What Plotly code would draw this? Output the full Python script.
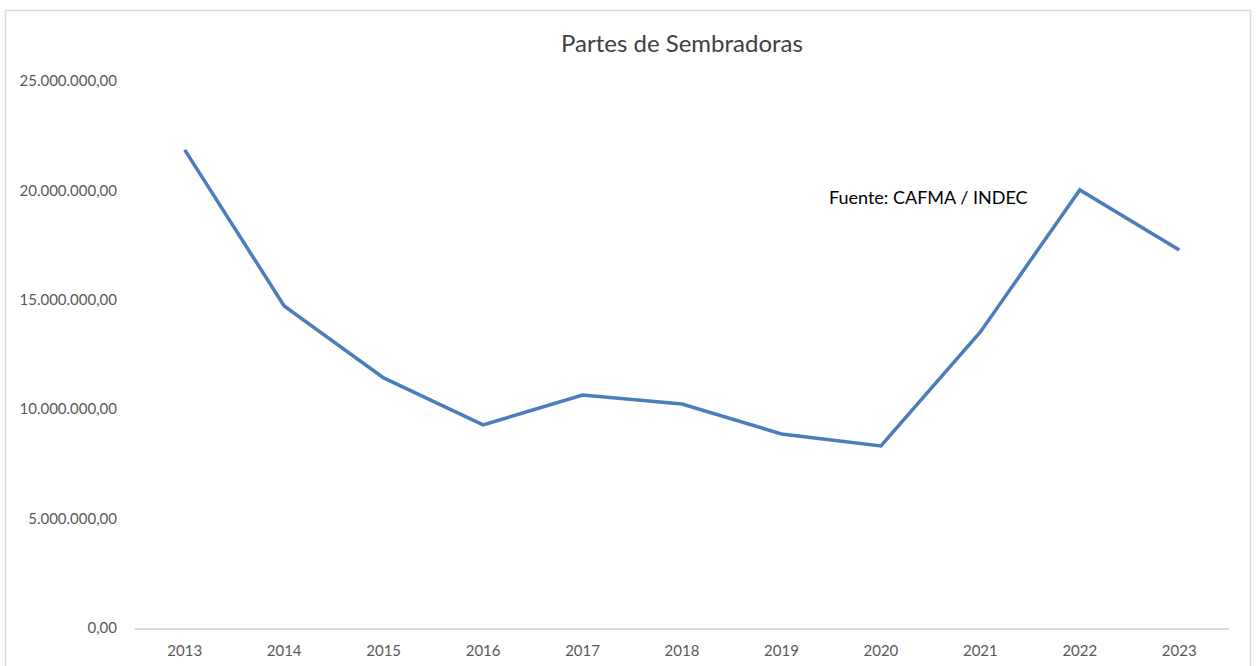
import plotly.graph_objects as go

years = ["2013", "2014", "2015", "2016", "2017", "2018", "2019", "2020", "2021", "2022", "2023"]
values = [21850000, 14720000, 11430000, 9280000, 10650000, 10240000, 8870000, 8320000, 13530000, 20020000, 17280000]
y_ticks = [0, 5000000, 10000000, 15000000, 20000000, 25000000]

W, H = 1256, 666
# plot area in window pixels: x 135..1229, y 81..628
L = 135
T = 81
R = W - 1229
B = H - 628
pw, ph = W - L - R, H - T - B

def px_x(p):
    return (p - L) / pw

def px_y(p):
    return (H - B - p) / ph

fig = go.Figure()
fig.add_trace(go.Scatter(x=years, y=values, mode="lines",
                         line=dict(color="#4A7EBB", width=3.5), hoverinfo="skip"))

fig.update_layout(
    width=W, height=H,
    margin=dict(l=L, r=R, t=T, b=B, autoexpand=False),
    paper_bgcolor="white", plot_bgcolor="white",
    separators=",.",
    showlegend=False,
    font=dict(family="Lato, 'Open Sans', sans-serif", color="#595959", size=15),
    title=dict(text="Partes de Sembradoras", x=0.5, xref="paper", xanchor="center",
               y=1 - 44 / H, yanchor="middle",
               font=dict(size=24, color="#404040")),
    xaxis=dict(type="category", range=[-0.5, len(years) - 0.5], showgrid=False,
               showline=True, linecolor="#D9D9D9", linewidth=1.5, ticks="",
               tickfont=dict(size=15, color="#595959"), automargin=False,
               ticklabelstandoff=8, zeroline=False),
    yaxis=dict(range=[0, 25000000], tickvals=y_ticks, tickformat=",.2f",
               showgrid=False, zeroline=False, showline=False, ticks="",
               automargin=False,
               tickfont=dict(size=15, color="#595959"), ticklabelstandoff=17),
    annotations=[dict(text="Fuente: CAFMA / INDEC", xref="paper", yref="paper",
                      x=px_x(928), y=px_y(197), xanchor="center", yanchor="middle",
                      showarrow=False, font=dict(size=18, color="#000000"))],
    shapes=[dict(type="rect", xref="paper", yref="paper",
                 x0=px_x(5.5), x1=px_x(1250.5), y0=px_y(690), y1=px_y(10.5),
                 line=dict(color="#D9D9D9", width=1.5), fillcolor="rgba(0,0,0,0)",
                 layer="below")],
)

fig.write_html("out.html", config={"displayModeBar": False},
               post_script="document.body.style.margin='0';document.body.style.overflow='hidden';")
